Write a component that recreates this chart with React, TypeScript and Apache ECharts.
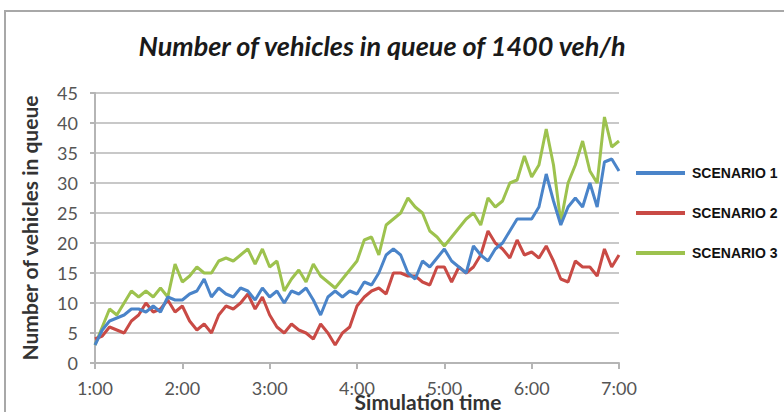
import React, { useEffect, useRef } from "react";
import * as echarts from "echarts";

const hours = ["1:00", "2:00", "3:00", "4:00", "5:00", "6:00", "7:00"];
const times: string[] = [];
for (let h = 1; h <= 7; h++) {
  for (let m = 0; m < 60; m += 5) {
    if (h === 7 && m > 0) break;
    times.push(`${h}:${m < 10 ? "0" + m : m}`);
  }
}

const scenario1 = [
  3, 5.5, 7, 7.5, 8, 9, 9, 8.5, 9.5, 8.5, 11, 10.5,
  10.5, 11.5, 12, 14, 11, 12.5, 11.5, 11, 12.5, 12, 10.5, 12.5,
  11, 12, 10, 12, 11.5, 12.5, 10.5, 8, 11, 12, 11, 12,
  11.5, 13.5, 13, 15, 18, 19, 18, 15, 14, 17, 16, 17.5,
  19, 17, 16, 15, 19.5, 18, 17, 19, 20, 22, 24, 24,
  24, 26, 31.5, 27, 23, 26, 27.5, 26, 30, 26, 33.5, 34, 32,
];
const scenario2 = [
  4, 4.5, 6, 5.5, 5, 7, 8, 10, 8.5, 9, 10.5, 8.5,
  9.5, 7, 5.5, 6.5, 5, 8, 9.5, 9, 10, 11.5, 9, 11,
  8, 6, 5, 6.5, 5.5, 5, 4, 6.5, 5, 3, 5, 6,
  9.5, 11, 12, 12.5, 11.5, 15, 15, 14.5, 14.5, 13.5, 13, 16,
  16, 13.5, 16, 15, 16, 18, 22, 20, 19, 17.5, 20.5, 18,
  18.5, 17.5, 19.5, 17, 14, 13.5, 17, 16, 16, 14.5, 19, 16, 18,
];
const scenario3 = [
  3, 6, 9, 8, 10, 12, 11, 12, 11, 12.5, 11, 16.5,
  13.5, 14.5, 16, 15, 15, 17, 17.5, 17, 18, 19, 16.5, 19,
  16, 17, 12, 14, 15.5, 13.5, 16.5, 14.5, 13.5, 12.5, 14, 15.5,
  17, 20.5, 21, 18, 23, 24, 25, 27.5, 26, 25, 22, 21,
  19.5, 21, 22.5, 24, 25, 23, 27.5, 26, 27, 30, 30.5, 34.5,
  31, 33, 39, 33, 23.5, 30, 33, 37, 32, 30, 41, 36, 37,
];
const seriesNames = ["SCENARIO 1", "SCENARIO 2", "SCENARIO 3"];
const colors = ["#4A84C9", "#C94A45", "#9DC24E"];

export default function App() {
  const ref = useRef<HTMLDivElement>(null);
  useEffect(() => {
    if (!ref.current) return;
    const chart = echarts.init(ref.current, undefined, { renderer: "svg" });
    const data = [scenario1, scenario2, scenario3];
    chart.setOption({
      animation: false,
      backgroundColor: "#ffffff",
      title: {
        text: "Number of vehicles in queue of 1400 veh/h",
        left: 377,
        top: 27,
        textAlign: "center",
        textStyle: {
          fontFamily: "Lato",
          fontStyle: "italic",
          fontWeight: "bold",
          fontSize: 27,
          color: "#1a1a1a",
        },
      },
      graphic: [
        {
          type: "rect",
          shape: { x: 5, y: 11, width: 820, height: 440 },
          style: { fill: "none", stroke: "#a8a8a8", lineWidth: 2 },
          silent: true,
        },
        {
          type: "text",
          x: 428,
          y: 401,
          style: {
            text: "Simulation time",
            fontFamily: "Lato",
            fontWeight: "bold",
            fontSize: 21,
            fill: "#333333",
            textAlign: "center",
            textVerticalAlign: "middle",
          },
        },
      ],
      legend: {
        orient: "vertical",
        left: 631,
        top: 161,
        icon: "rect",
        itemWidth: 49,
        itemHeight: 4,
        itemGap: 26,
        textStyle: {
          fontFamily: "Liberation Sans",
          fontWeight: "bold",
          fontSize: 14,
          color: "#111111",
          padding: [0, 0, 0, 2],
        },
        data: seriesNames,
      },
      grid: { left: 95, right: 165, top: 93, bottom: 49 },
      xAxis: {
        type: "category",
        data: times,
        boundaryGap: false,
        axisLine: { lineStyle: { color: "#b5b5b5", width: 2 } },
        axisTick: {
          show: true,
          length: 6,
          interval: (i: number, v: string) => hours.includes(v),
          lineStyle: { color: "#b5b5b5", width: 2 },
        },
        axisLabel: {
          interval: (i: number, v: string) => hours.includes(v),
          margin: 16,
          fontFamily: "Lato",
          fontSize: 18,
          color: "#555555",
        },
        splitLine: { show: false },
      },
      yAxis: {
        type: "value",
        min: 0,
        max: 45,
        interval: 5,
        name: "Number of vehicles in queue",
        nameLocation: "middle",
        nameGap: 55,
        nameTextStyle: {
          fontFamily: "Lato",
          fontWeight: "bold",
          fontSize: 21,
          color: "#333333",
        },
        axisLine: { show: true, lineStyle: { color: "#b5b5b5", width: 2 } },
        axisTick: { show: true, length: 5, lineStyle: { color: "#b5b5b5", width: 2 } },
        axisLabel: {
          margin: 17,
          fontFamily: "Lato",
          fontSize: 18,
          color: "#555555",
        },
        splitLine: { lineStyle: { color: "#c8c8c8", width: 2 } },
      },
      series: data.map((d, i) => ({
        name: seriesNames[i],
        type: "line",
        data: d,
        showSymbol: false,
        symbol: "none",
        lineStyle: { width: 3, color: colors[i] },
        itemStyle: { color: colors[i] },
        z: i === 2 ? 1 : i === 1 ? 2 : 3,
      })),
    });
    return () => chart.dispose();
  }, []);
  return (
    <div
      ref={ref}
      style={{ position: "fixed", left: 0, top: 0, width: 784, height: 412 }}
    />
  );
}
